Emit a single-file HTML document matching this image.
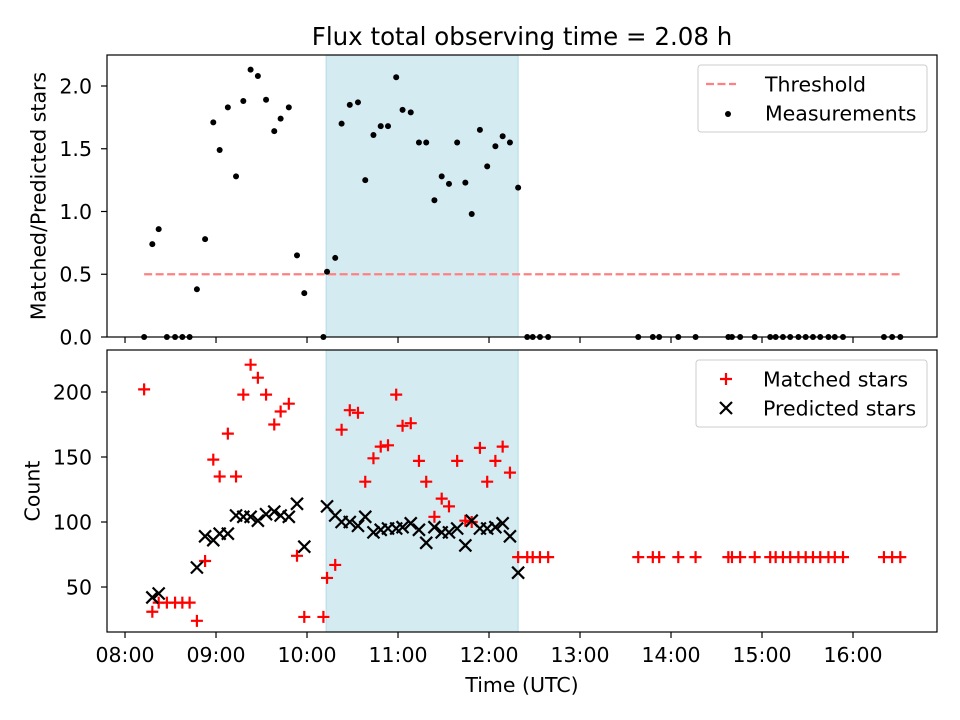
<!DOCTYPE html>
<html><head><meta charset="utf-8"><style>
body{margin:0;background:#fff}
svg{display:block;font-family:"DejaVu Sans","Liberation Sans",sans-serif}
</style></head><body>
<svg id="c" width="960" height="720"></svg>
<script>
const times=[8.21,8.30,8.37,8.46,8.55,8.63,8.71,8.79,8.88,8.97,9.04,9.13,9.22,9.30,9.38,9.46,9.55,9.64,9.71,9.80,9.89,9.97,10.18,10.22,10.31,10.38,10.47,10.56,10.64,10.73,10.81,10.89,10.98,11.05,11.14,11.23,11.31,11.40,11.48,11.56,11.65,11.74,11.81,11.90,11.98,12.07,12.15,12.23,12.32,12.42,12.48,12.56,12.65,13.64,13.80,13.87,14.08,14.27,14.63,14.67,14.76,14.92,15.09,15.15,15.23,15.31,15.40,15.48,15.56,15.64,15.73,15.80,15.89,16.34,16.43,16.52];
const ratio=[0,0.74,0.86,0,0,0,0,0.38,0.78,1.71,1.49,1.83,1.28,1.88,2.13,2.08,1.89,1.64,1.74,1.83,0.65,0.35,0,0.52,0.63,1.70,1.85,1.87,1.25,1.61,1.68,1.68,2.07,1.81,1.79,1.55,1.55,1.09,1.28,1.22,1.55,1.23,0.98,1.65,1.36,1.52,1.60,1.55,1.19,0,0,0,0,0,0,0,0,0,0,0,0,0,0,0,0,0,0,0,0,0,0,0,0,0,0,0];
const matched=[202,31,38,38,38,38,38,24,70,148,135,168,135,198,221,211,198,175,185,191,74,27,27,57,67,171,186,184,131,149,158,159,198,174,176,147,131,104,118,112,147,101,100,157,131,147,158,138,73,73,73,73,73,73,73,73,73,73,73,73,73,73,73,73,73,73,73,73,73,73,73,73,73,73,73,73];
const predicted=[null,42,45,null,null,null,null,65,89,86,91,91,105,104,104,101,106,108,105,104,114,81,null,112,105,100,100,97,104,92,94,95,95,96,99,94,84,96,92,92,95,82,101,95,95,96,99,89,61];
const threshold=0.5;
const shadeSpan=[10.21,12.32];
const xTicks=[8,9,10,11,12,13,14,15,16];
const xTickLabels=["08:00","09:00","10:00","11:00","12:00","13:00","14:00","15:00","16:00"];
const yTicksTop=[0,0.5,1.0,1.5,2.0];
const yTicksBot=[50,100,150,200];

const svg=document.getElementById('c');const NS='http://www.w3.org/2000/svg';
function mk(t,a,p){const e=document.createElementNS(NS,t);for(const k in a)e.setAttribute(k,a[k]);(p||svg).appendChild(e);return e;}
const L=107,R=937,X0=7.802,X1=16.923;
const xs=v=>L+(v-X0)/(X1-X0)*(R-L);
const T={t:55,b:337,y0:0,y1:2.247},B={t:350,b:632,y0:15.4,y1:232.3};
const ys=(p,v)=>p.b-(v-p.y0)/(p.y1-p.y0)*(p.b-p.t);
const FS=20.5;

function panel(p,name,yt,fmt,showX){
  const g=mk('g',{});
  const s=mk('rect',{x:xs(shadeSpan[0]),y:p.t,width:xs(shadeSpan[1])-xs(shadeSpan[0]),height:p.b-p.t,fill:'#d4ebf2',stroke:'#b5dbe8','stroke-width':1},g);
  
  yt.forEach(v=>{const y=ys(p,v);mk('line',{x1:L-6,x2:L,y1:y,y2:y,stroke:'#000','stroke-width':1.2},g);
    const t=mk('text',{x:L-15,y:y+7.5,'text-anchor':'end','font-size':FS},g);t.textContent=fmt(v);
    });
  xTicks.forEach((v,i)=>{const x=xs(v);mk('line',{x1:x,x2:x,y1:p.b,y2:p.b+6,stroke:'#000','stroke-width':1.2},g);
    if(showX){const t=mk('text',{x:x,y:662,'text-anchor':'middle','font-size':FS},g);t.textContent=xTickLabels[i];
    }});
  return g;
}
const gt=panel(T,'top-panel',yTicksTop,v=>v.toFixed(1),false);
const gb=panel(B,'bottom-panel',yTicksBot,v=>String(v),true);

const th=mk('line',{x1:xs(times[0]),x2:xs(times[times.length-1]),y1:ys(T,threshold),y2:ys(T,threshold),stroke:'#ff8080','stroke-width':2.2,'stroke-dasharray':'8,3.5'},gt);

ratio.forEach((v,i)=>{const c=mk('circle',{cx:xs(times[i]),cy:ys(T,v),r:3,fill:'#000'},gt);
  });
matched.forEach((v,i)=>{const x=xs(times[i]),y=ys(B,v);
  const p=mk('path',{d:`M${x-6},${y}H${x+6}M${x},${y-6}V${y+6}`,stroke:'#f00','stroke-width':2.2},gb);
  });
predicted.forEach((v,i)=>{if(v==null)return;const x=xs(times[i]),y=ys(B,v);
  const p=mk('path',{d:`M${x-6},${y-6}L${x+6},${y+6}M${x-6},${y+6}L${x+6},${y-6}`,stroke:'#000','stroke-width':2.2},gb);
  });
[T,B].forEach(p=>mk('rect',{x:L,y:p.t,width:R-L,height:p.b-p.t,fill:'none',stroke:'#000','stroke-width':1.2}));

function txt(s,a,name){const t=mk('text',a);t.textContent=s;return t;}
txt('Flux total observing time = 2.08 h',{x:522,y:45,'text-anchor':'middle','font-size':24.5},'chart-title');
txt('Matched/Predicted stars',{x:0,y:0,'text-anchor':'middle','font-size':FS,transform:'translate(45.5,196) rotate(-90)'},'y-axis-title-top');
txt('Count',{x:0,y:0,'text-anchor':'middle','font-size':FS,transform:'translate(39.5,491) rotate(-90)'},'y-axis-title-bottom');
txt('Time (UTC)',{x:522,y:692,'text-anchor':'middle','font-size':FS},'x-axis-title');

function legend(x,y,w,items,name){const g=mk('g',{});
  mk('rect',{x:x,y:y,width:w,height:67,rx:3,fill:'#fff','fill-opacity':0.8,stroke:'#ccc'},g);
  items.forEach((it,i)=>{const cy=y+19+i*29;it.m(x+30,cy,g);
    const t=mk('text',{x:x+67,y:cy+7.5,'font-size':FS},g);t.textContent=it.l;});}
legend(698,65,229,[{l:'Threshold',m:(x,y,g)=>mk('line',{x1:x-22,x2:x+8,y1:y,y2:y,stroke:'#ff8080','stroke-width':2.2,'stroke-dasharray':'8,3.5'},g)},
 {l:'Measurements',m:(x,y,g)=>mk('circle',{cx:x,cy:y+1,r:3,fill:'#000'},g)}],'legend-top');
legend(696,360,231,[{l:'Matched stars',m:(x,y,g)=>mk('path',{d:`M${x-6},${y}H${x+6}M${x},${y-6}V${y+6}`,stroke:'#f00','stroke-width':2.2},g)},
 {l:'Predicted stars',m:(x,y,g)=>mk('path',{d:`M${x-6},${y-6}L${x+6},${y+6}M${x-6},${y+6}L${x+6},${y-6}`,stroke:'#000','stroke-width':2.2},g)}],'legend-bottom');
</script>
</body></html>
